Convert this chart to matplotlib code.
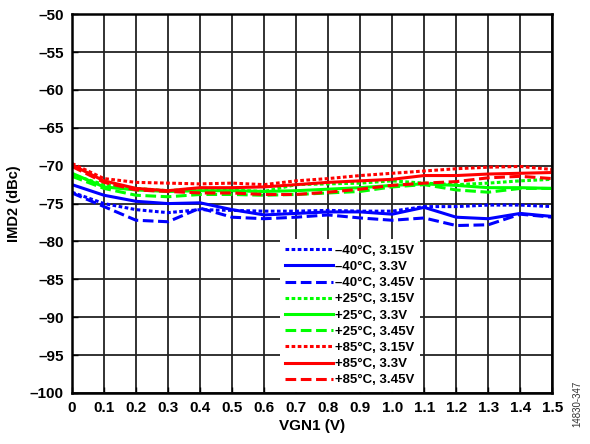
import matplotlib.pyplot as plt
import numpy as np

plt.rcParams['font.family'] = ['Liberation Sans', 'DejaVu Sans']
plt.rcParams['font.weight'] = 'bold'

vgn1 = [0.0, 0.1, 0.2, 0.3, 0.4, 0.5, 0.6, 0.7, 0.8, 0.9, 1.0, 1.1, 1.2, 1.3, 1.4, 1.5]

# IMD2 (dBc)
m40_315 = [-73.5, -75.0, -75.8, -76.2, -75.8, -75.9, -76.0, -76.0, -75.9, -76.0, -76.0, -75.4, -75.4, -75.2, -75.2, -75.4]
m40_330 = [-72.5, -73.9, -74.7, -75.0, -74.9, -75.8, -76.5, -76.3, -76.1, -76.1, -76.4, -75.5, -76.8, -77.0, -76.3, -76.7]
m40_345 = [-73.6, -75.4, -77.2, -77.4, -75.6, -76.8, -77.0, -76.8, -76.5, -76.9, -77.2, -76.9, -77.9, -77.8, -76.4, -76.8]
p25_315 = [-71.2, -72.5, -73.0, -73.3, -73.0, -73.2, -73.4, -72.5, -72.4, -72.3, -72.0, -72.3, -72.5, -72.3, -72.0, -71.8]
p25_330 = [-71.0, -72.8, -73.2, -73.4, -73.3, -73.3, -73.4, -73.3, -73.1, -72.9, -72.6, -72.4, -72.6, -72.9, -72.9, -73.0]
p25_345 = [-71.4, -73.0, -73.9, -74.1, -73.8, -73.8, -73.9, -73.8, -73.6, -73.4, -72.8, -72.5, -73.2, -73.5, -73.0, -73.0]
p85_315 = [-69.7, -71.7, -72.2, -72.3, -72.4, -72.3, -72.5, -72.0, -71.7, -71.3, -71.0, -70.7, -70.4, -70.2, -70.1, -70.5]
p85_330 = [-69.9, -72.0, -73.0, -73.3, -72.9, -72.9, -72.8, -72.5, -72.2, -72.0, -71.8, -71.3, -71.3, -71.1, -71.0, -70.9]
p85_345 = [-70.1, -72.2, -73.2, -73.4, -73.6, -73.6, -73.8, -73.8, -73.5, -73.1, -72.6, -72.3, -72.1, -71.6, -71.4, -71.7]

series = [
    (m40_315, '#0000ff', 'dot', '\u201340\u00b0C, 3.15V'),
    (m40_330, '#0000ff', 'solid', '\u201340\u00b0C, 3.3V'),
    (m40_345, '#0000ff', 'dash', '\u201340\u00b0C, 3.45V'),
    (p25_315, '#00ff00', 'dot', '+25\u00b0C, 3.15V'),
    (p25_330, '#00ff00', 'solid', '+25\u00b0C, 3.3V'),
    (p25_345, '#00ff00', 'dash', '+25\u00b0C, 3.45V'),
    (p85_315, '#ff0000', 'dot', '+85\u00b0C, 3.15V'),
    (p85_330, '#ff0000', 'solid', '+85\u00b0C, 3.3V'),
    (p85_345, '#ff0000', 'dash', '+85\u00b0C, 3.45V'),
]
styles = {'dot': (0, (1.2, 0.8)), 'solid': '-', 'dash': (0, (3.5, 1.5))}

fig = plt.figure(figsize=(5.9, 4.44), dpi=100)
ax = fig.add_axes([0.122, 0.115, 0.814, 0.853])

for vals, col, st, lab in series:
    ax.plot(vgn1, vals, color=col, linestyle=styles[st], lw=2.2, label=lab)

ax.set_xlim(0, 1.5)
ax.set_ylim(-100, -50)
xt = np.arange(0, 1.51, 0.1)
ax.set_xticks(xt)
ax.set_xticklabels(['0'] + ['%.1f' % v for v in xt[1:]])
yt = np.arange(-100, -49, 5)
ax.set_yticks(yt)
ax.set_yticklabels(['\u2013%d' % abs(v) for v in yt])
ax.grid(True, color='#222222', lw=1.3)
ax.set_axisbelow(True)
ax.tick_params(direction='in', length=4, width=1, labelsize=11, pad=6)
for sp in ax.spines.values():
    sp.set_linewidth(1.8)

ax.set_xlabel('VGN1 (V)', fontsize=11, fontweight='bold', labelpad=3)
ax.set_ylabel('IMD2 (dBc)', fontsize=10.5, fontweight='bold', labelpad=6)

leg = ax.legend(loc='lower left', bbox_to_anchor=(0.43, 0.0), fontsize=9.5,
                frameon=True, fancybox=False, framealpha=1, edgecolor='none',
                handlelength=3.6, handletextpad=0.2, labelspacing=0.3,
                borderpad=0.4, borderaxespad=0.1)
leg.get_frame().set_facecolor('white')
for t in leg.get_texts():
    t.set_fontweight('bold')

fig.text(0.978, 0.09, '14830-347', rotation=90, fontsize=7, fontweight='normal',
         color='#333333', ha='center', va='center')

fig.savefig('out.png', dpi=100)
